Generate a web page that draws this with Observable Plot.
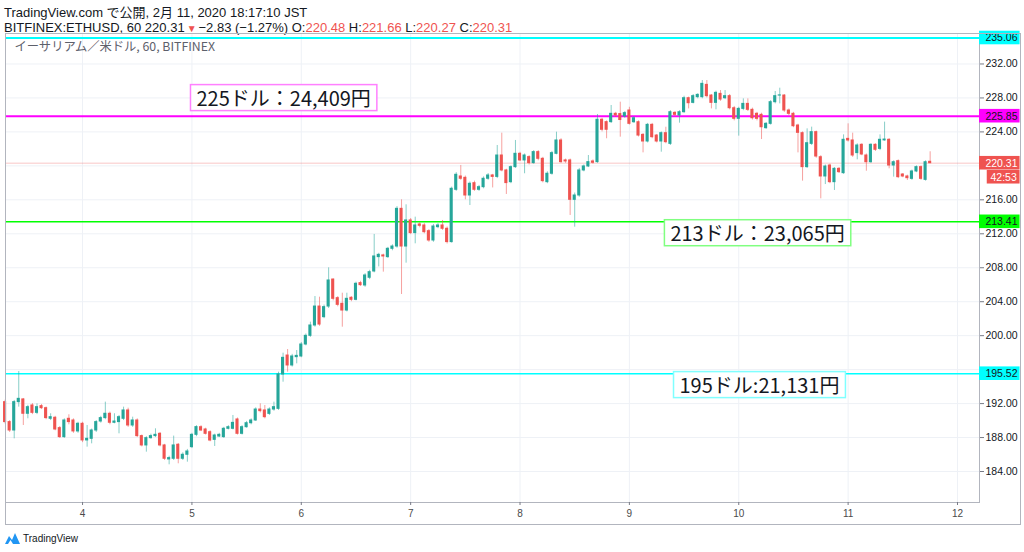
<!DOCTYPE html>
<html><head><meta charset="utf-8">
<script src="https://cdn.jsdelivr.net/npm/d3@7"></script>
<script src="https://cdn.jsdelivr.net/npm/@observablehq/plot@0.6"></script>
<style>
body{margin:0;width:1024px;height:552px;overflow:hidden;background:#fff;position:relative;font-family:"Noto Sans CJK JP","Noto Sans",sans-serif;color:#131722}
#hdr{position:absolute;left:4px;top:5px;font-family:"Liberation Sans","Noto Sans CJK JP",sans-serif;font-size:13px;line-height:15px;white-space:nowrap}
#hdr .r{color:#ef5350}
#chart{position:absolute;left:0;top:33px}
#outer{position:absolute;left:5px;top:33px;width:1014px;height:490px;border:1px solid #b2b5be;pointer-events:none}
#ftr{position:absolute;left:5px;top:530px;height:16px;display:flex;align-items:center;font-family:"Liberation Sans Narrow","Liberation Sans",sans-serif;font-size:10px;color:#131722}
#ftr svg{margin-right:3px}
</style></head>
<body>
<div id="hdr"></div>
<div id="chart"></div>
<div id="outer"></div>
<div id="ftr"><svg width="15" height="12" viewBox="0 0 15 12"><path d="M0 12 L4 4 L7 8 L10 1 L15 12 Z" fill="#2196f3"/><path d="M3 12 L5.5 8 L8 12 Z" fill="#fff"/></svg><span>TradingView</span></div>
<script>
// ---- header values
const symbolLine = "BITFINEX:ETHUSD, 60";
const lastPrice = 220.31;
const change = "−2.83 (−1.27%)";
const ohlcLabels = ["O", "H", "L", "C"];
const ohlcValues = ["220.48", "221.66", "220.27", "220.31"];
const publishLine = "TradingView.com で公開, 2月 11, 2020 18:17:10 JST";
const legendTitle = "イーサリアム／米ドル, 60, BITFINEX";

// ---- hourly candles (Feb 3 07:00 → Feb 11 18:00)
const opens = [
192.17,189.82,188.83,192.17,192.49,190.80,191.78,190.91,191.70,191.46,190.21,190.33,189.11,188.05,190.21,190.01,188.72,189.62,187.66,187.85,
188.83,189.89,190.29,190.80,189.74,189.82,190.21,191.19,189.42,190.01,188.17,187.07,187.93,188.17,188.44,187.07,185.42,185.50,187.15,185.50,
185.97,186.87,188.32,189.22,188.95,188.63,187.73,188.12,188.05,189.03,189.03,190.13,188.44,189.22,189.69,190.01,191.30,191.19,190.79,191.30,
191.38,195.43,197.66,196.49,197.47,197.55,198.96,199.98,201.20,203.43,202.18,203.43,206.61,204.42,203.75,202.96,204.46,204.22,206.19,205.91,
206.82,207.56,209.25,209.45,209.25,210.23,210.50,214.94,210.50,213.57,212.08,213.10,212.98,212.31,211.21,212.78,212.98,212.59,211.02,217.18,
218.75,218.59,216.51,217.96,217.18,217.49,218.48,218.87,218.70,221.22,219.46,218.08,219.85,221.42,220.64,221.03,220.32,221.62,220.83,218.08,
219.07,221.42,222.99,220.64,220.64,216.00,216.51,219.46,219.93,220.52,220.44,225.43,225.15,225.15,226.13,226.10,225.82,226.52,225.14,225.14,
223.65,222.87,224.83,223.57,222.87,223.85,222.59,226.24,225.93,226.32,227.97,227.42,228.09,228.09,229.54,228.28,227.42,228.48,227.97,228.21,
226.79,225.54,226.71,227.30,226.60,226.13,226.01,224.44,224.95,227.50,228.28,228.28,226.52,226.13,224.75,223.85,219.85,222.59,223.97,221.02,
218.75,220.04,218.08,219.65,219.14,223.18,222.99,221.50,222.48,221.22,220.43,222.48,222.00,223.00,223.07,220.04,220.55,218.98,218.75,218.47,
219.34,219.85,218.35,220.48];
const highs = [
192.40,190.00,192.37,195.78,192.60,191.80,192.00,191.97,191.90,191.60,190.80,190.50,189.30,190.20,190.68,190.20,189.80,189.80,189.42,189.00,
190.00,190.50,192.17,191.00,190.80,190.60,191.58,191.46,190.40,190.20,188.30,188.10,188.40,189.03,188.60,187.20,185.80,188.17,187.30,186.20,
186.60,188.50,189.40,189.40,189.10,188.80,188.40,188.50,189.20,189.40,190.60,190.30,189.40,189.90,190.20,191.50,191.97,191.77,191.50,192.17,
195.70,197.94,198.37,197.80,198.25,199.20,200.20,201.59,204.61,204.53,203.60,207.99,206.69,204.60,205.00,205.00,204.60,206.30,206.40,207.30,
207.70,211.92,209.70,209.60,210.40,210.70,215.20,216.00,215.41,213.80,213.96,213.30,213.20,212.50,213.10,213.20,213.57,212.80,217.50,219.20,
220.05,218.80,218.10,218.20,217.70,218.70,219.10,219.00,222.40,223.85,219.60,220.00,222.99,221.60,221.40,221.20,221.80,221.80,221.00,219.30,
221.70,223.97,223.20,220.80,220.80,216.80,219.70,220.10,221.22,220.70,226.05,225.60,225.30,227.11,226.30,227.50,226.40,226.90,225.80,225.30,
223.80,225.00,225.00,223.70,224.00,224.55,226.50,226.40,226.50,228.20,228.10,228.40,228.50,230.05,230.05,228.40,228.80,228.87,228.87,228.40,
227.00,226.90,227.89,227.89,226.80,226.30,226.20,225.10,227.70,228.76,229.15,228.40,226.70,226.30,224.90,224.00,224.36,224.56,224.10,221.20,
220.10,220.20,219.80,219.80,223.65,224.95,223.85,222.60,222.60,221.40,222.60,222.60,223.65,225.15,223.20,220.60,220.70,219.10,218.90,219.50,
220.00,220.00,220.60,221.66];
const lows = [
189.60,188.60,187.85,191.58,189.42,190.21,190.70,190.70,191.30,190.10,190.00,188.80,187.90,187.90,189.50,188.50,188.50,187.40,186.87,187.26,
188.60,189.70,190.10,189.50,189.62,188.44,190.00,189.20,189.20,188.00,186.90,186.28,187.80,188.00,186.90,185.30,184.79,185.30,184.91,185.30,
185.10,186.70,188.10,188.70,188.30,187.50,186.95,188.00,187.90,188.90,188.90,188.30,188.30,189.10,189.50,189.90,190.90,190.20,190.60,191.10,
191.20,194.52,195.70,196.30,196.68,197.40,198.80,199.80,201.00,201.10,202.00,203.20,204.10,203.40,201.00,202.80,204.00,204.10,205.80,205.70,
206.60,207.40,208.10,207.48,209.10,210.00,210.30,204.85,208.54,211.90,210.82,212.70,212.00,211.00,211.00,212.60,212.40,210.80,210.90,217.00,
218.30,216.00,215.33,217.00,217.00,217.30,218.30,217.40,218.50,219.30,216.63,217.90,219.70,220.50,219.07,220.10,220.20,220.60,218.00,217.90,
218.90,221.30,220.30,220.30,214.16,212.78,216.30,219.30,219.80,220.20,220.30,224.00,223.19,225.00,225.70,223.38,225.60,224.80,225.00,223.40,
221.53,222.70,223.20,222.70,221.61,222.60,222.40,225.80,225.03,226.20,226.71,227.30,227.90,227.90,228.00,226.71,226.60,227.60,227.80,226.60,
225.30,223.50,226.50,226.40,225.40,225.30,223.10,224.30,224.80,227.30,227.30,226.30,225.90,224.50,221.53,218.20,219.70,222.40,220.90,216.12,
217.80,217.90,217.10,219.10,219.00,222.80,221.00,220.71,221.20,219.37,220.30,221.70,221.80,222.90,219.65,218.67,218.50,218.60,218.28,218.30,
219.20,218.30,218.20,220.27];
const closes = [
189.82,188.83,192.17,192.56,190.80,191.58,190.91,191.58,191.46,190.29,190.40,188.95,188.05,190.01,189.82,188.72,189.62,187.66,187.85,188.83,
189.82,190.29,190.80,189.74,189.89,190.40,191.19,189.42,190.01,188.17,187.07,187.93,188.17,188.32,187.07,185.50,185.58,187.07,185.50,185.97,
186.36,188.32,189.23,188.83,188.44,187.65,188.24,188.32,189.03,189.22,189.73,188.44,189.22,189.69,190.01,191.30,191.11,190.40,191.30,191.58,
195.43,197.39,196.49,197.55,197.62,198.96,199.98,201.20,203.43,201.31,203.36,206.50,204.34,203.63,202.96,204.34,204.22,206.11,205.95,207.09,
207.48,209.33,209.52,209.33,210.23,210.50,214.94,210.50,213.57,212.08,212.98,212.94,212.19,211.21,212.86,212.98,212.59,211.02,217.30,218.95,
218.48,216.51,217.89,217.18,217.49,218.48,218.87,218.70,221.22,219.46,217.97,219.85,221.42,220.64,221.22,220.32,221.62,220.83,218.20,219.07,
221.50,222.99,220.44,220.52,216.00,216.51,219.46,219.93,220.44,220.36,225.43,224.25,224.25,226.13,225.94,225.40,226.21,224.95,225.61,223.57,
222.87,224.83,223.38,222.87,223.85,222.79,226.32,226.01,226.32,227.97,227.38,228.21,228.36,229.66,228.21,227.42,228.60,227.81,228.21,226.79,
225.54,226.71,227.30,226.60,225.61,225.54,224.55,224.95,227.50,228.21,228.30,226.52,226.13,224.67,223.89,219.85,222.67,223.97,221.10,218.75,
219.92,218.08,219.65,219.26,223.07,222.99,221.22,222.40,221.34,220.43,222.48,221.89,223.07,223.10,220.04,220.43,218.67,218.75,218.55,219.34,
219.85,218.47,220.43,220.31];

// ---- axes
const gridTicks = [184, 188, 192, 196, 200, 204, 208, 212, 216, 220, 224, 228, 232];
const yTickLabels = [184, 188, 192, 200, 204, 208, 212, 216, 224, 228, 232]; // 196 / 220 sit under price tags
const dayLabels = [4, 5, 6, 7, 8, 9, 10, 11, 12];

// ---- horizontal levels
const levelValues = [235.06, 225.85, 213.41, 195.52];
const levelColors = ["#00ffff", "#ff00ff", "#00ff00", "#00ffff"];
const levelWidths = [2, 2, 1.5, 1.5];

// ---- annotations
const annoLabels = ["225ドル：24,409円", "213ドル：23,065円", "195ドル:21,131円"];
const annoLevels = [225.85, 213.41, 195.52];
const annoColors = ["#ff80ff", "#80ff80", "#80ffff"];
const annoSide = ["above", "below", "below"];
const annoHour = [42, 146, 148];

const UP = "#26a69a", DOWN = "#ef5350";
const H = 3600e3;
const t0 = Date.UTC(2020, 1, 3, 7);
const hourDate = n => new Date(t0 + n * H);

const rows = closes.map((c, i) => ({date: hourDate(i), open: opens[i], high: highs[i], low: lows[i], close: c}));
const levels = levelValues.map((v, i) => ({v, color: levelColors[i], w: levelWidths[i]}));
const dayTicks = dayLabels.map(d => new Date(Date.UTC(2020, 1, d)));
const xDomain = [hourDate(0.09), hourDate(213.83)];
const xEnd = xDomain[1];

const tags = [
  {v: 235.06, fill: "#00ffff", text: "#131722"},
  {v: 225.85, fill: "#ff00ff", text: "#131722"},
  {v: lastPrice, fill: "#ef5350", text: "#ffffff"},
  {v: 213.41, fill: "#00ff00", text: "#131722"},
  {v: 195.52, fill: "#00ffff", text: "#131722"}
];
const countdown = "42:53";

// header
{
  const hdr = document.getElementById("hdr");
  let l2 = `${symbolLine} ${lastPrice.toFixed(2)}<span class="r" style="font-size:10px;margin:0 2px">▼</span>${change}`;
  ohlcLabels.forEach((l, i) => { l2 += ` ${l}:<span class="r">${ohlcValues[i]}</span>`; });
  hdr.innerHTML = `<div>${publishLine}</div><div>${l2}</div>`;
}

const axisFont = '"Liberation Sans", sans-serif';

const marks = [
  Plot.gridY(gridTicks, {stroke: "#eef1f6", strokeOpacity: 1}),
  Plot.gridX(dayTicks, {stroke: "#eef1f6", strokeOpacity: 1}),
  Plot.ruleY([lastPrice], {stroke: "#ef5350", strokeOpacity: 0.22, strokeWidth: 1.5}),
  ...levels.map(l => Plot.ruleY([l.v], {stroke: l.color, strokeWidth: l.w})),
  Plot.ruleX(rows, {x: "date", y1: "low", y2: "high", stroke: d => d.close >= d.open ? UP : DOWN, strokeOpacity: 0.55, strokeWidth: 1}),
  Plot.rect(rows, {
    x1: d => new Date(+d.date - 0.34 * H), x2: d => new Date(+d.date + 0.34 * H),
    y1: "open", y2: "close", fill: d => d.close >= d.open ? UP : DOWN,
    insetTop: -0.5, insetBottom: -0.5
  }),
  Plot.text([legendTitle], {frameAnchor: "top-left", dx: 9, dy: 14, lineAnchor: "middle", textAnchor: "start", fontSize: 12.3, fill: "#5d606b", fontFamily: '"Noto Sans CJK JP", sans-serif'}),
  ...annoLabels.map((label, i) => Plot.text([label], {
    x: () => hourDate(annoHour[i]), y: () => annoLevels[i], text: d => d,
    textAnchor: "start", lineAnchor: "middle", dy: annoSide[i] === "above" ? -16.5 : 13,
    fontSize: 20, fill: "#131722", fontFamily: '"Noto Sans CJK JP", sans-serif'
  })),
  Plot.frame({stroke: "#b2b5be"}),
  Plot.axisY(yTickLabels, {anchor: "right", tickSize: 4, tickPadding: 2, tickFormat: d => d.toFixed(2), fontSize: 10.5, fill: "#131722", stroke: "#787b86", fontFamily: axisFont}),
  Plot.axisX(dayTicks, {anchor: "bottom", tickSize: 3, tickPadding: 4, tickFormat: d => String(d.getUTCDate()), fontSize: 10, fill: "#4a4a4a", stroke: "#787b86", fontFamily: axisFont}),
  Plot.rect(tags, {x1: () => xEnd, x2: () => new Date(+xEnd + 8.9 * H), y1: d => d.v - 0.8, y2: d => d.v + 0.8, fill: "fill"}),
  Plot.text(tags, {x: () => new Date(+xEnd + 1.3 * H), y: "v", text: d => d.v.toFixed(2), fill: "text", textAnchor: "start", fontSize: 10.5, fontFamily: axisFont}),
  Plot.rect([countdown], {x1: () => new Date(+xEnd + 1.7 * H), x2: () => new Date(+xEnd + 8.9 * H), y1: () => lastPrice - 0.8, y2: () => lastPrice + 0.8, dy: 14, fill: "#ef5350"}),
  Plot.text([countdown], {x: () => new Date(+xEnd + 5.3 * H), y: () => lastPrice, text: d => d, dy: 14, fill: "#ffffff", textAnchor: "middle", fontSize: 10.5, fontFamily: axisFont})
];

const plot = Plot.plot({
  width: 1024, height: 491,
  marginLeft: 5, marginRight: 45, marginTop: 0, marginBottom: 22,
  x: {type: "utc", domain: xDomain, axis: null},
  y: {domain: [180.35, 235.59], axis: null},
  color: {type: "identity"},
  style: {background: "transparent", overflow: "visible"},
  marks
});
document.getElementById("chart").append(plot);

// boxes around annotation labels (same transform as the text)
plot.querySelectorAll("text").forEach(t => {
  const i = annoLabels.indexOf(t.textContent);
  if (i < 0) return;
  const b = t.getBBox();
  const cy = b.y + b.height / 2;
  const r = document.createElementNS("http://www.w3.org/2000/svg", "rect");
  r.setAttribute("x", b.x - 6);
  r.setAttribute("y", cy - 13);
  r.setAttribute("width", b.width + 12);
  r.setAttribute("height", 26);
  r.setAttribute("fill", "#ffffff");
  r.setAttribute("stroke", annoColors[i]);
  r.setAttribute("stroke-width", 1.5);
  const tr = t.getAttribute("transform");
  if (tr) r.setAttribute("transform", tr);
  t.parentNode.insertBefore(r, t);
});
</script>
</body></html>
